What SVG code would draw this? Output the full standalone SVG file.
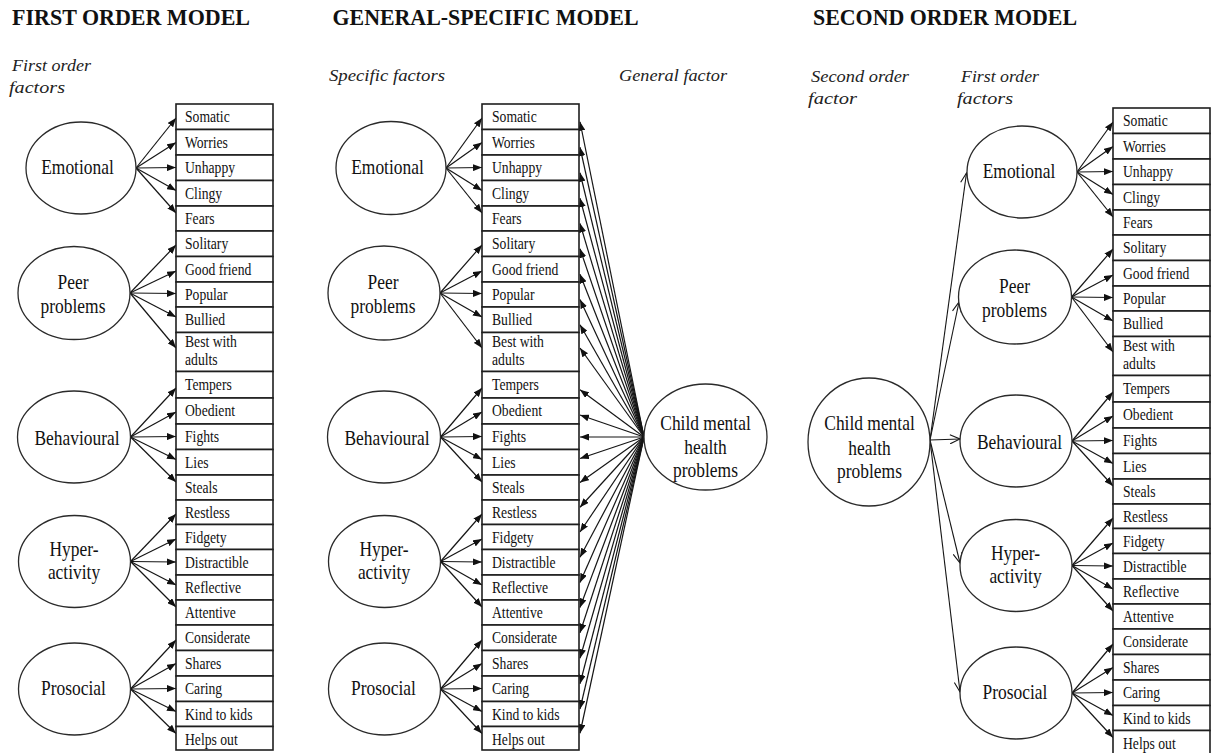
<svg xmlns="http://www.w3.org/2000/svg" width="1214" height="753" viewBox="0 0 1214 753">
<style>
  .bg { fill:#ffffff; }
  .box { fill:#ffffff; stroke:#1e1e1e; stroke-width:1.6; }
  .ell { fill:#ffffff; stroke:#2a2a2a; stroke-width:1.3; }
  text { font-family:"Liberation Serif","Times New Roman",serif; fill:#111111; }
  .lbl { font-size:17.5px; }
  .fac { font-size:21px; text-anchor:middle; }
  .hd { font-size:23px; font-weight:bold; }
  .it { font-size:17.5px; font-style:italic; fill:#222222; }
  .arr { stroke:#151515; stroke-width:1.2; fill:none; marker-end:url(#tri); }
  .arr2 { stroke:#151515; stroke-width:1.1; fill:none; marker-end:url(#vee); }
</style>
<defs>
  <marker id="tri" viewBox="0 0 9 7" refX="9" refY="3.5" markerWidth="9" markerHeight="7" orient="auto" markerUnits="userSpaceOnUse">
    <path d="M0,0 L9,3.5 L0,7 z" fill="#111111"/>
  </marker>
  <marker id="vee" viewBox="0 0 12 10" refX="11" refY="5" markerWidth="12" markerHeight="10" orient="auto" markerUnits="userSpaceOnUse">
    <path d="M1,0.5 L11,5 L1,9.5" fill="none" stroke="#151515" stroke-width="1.1"/>
  </marker>
</defs>
<rect class="bg" x="0" y="0" width="1214" height="753"/>

<!-- headings and column captions -->
<g id="titles">
  <text class="hd" x="12" y="25" textLength="238" lengthAdjust="spacingAndGlyphs">FIRST ORDER MODEL</text>
  <text class="hd" x="332.5" y="25" textLength="306" lengthAdjust="spacingAndGlyphs">GENERAL-SPECIFIC MODEL</text>
  <text class="hd" x="813" y="25" textLength="264" lengthAdjust="spacingAndGlyphs">SECOND ORDER MODEL</text>
  <text class="it" x="12" y="70.5" textLength="79" lengthAdjust="spacingAndGlyphs">First order</text>
  <text class="it" x="9" y="93" textLength="56" lengthAdjust="spacingAndGlyphs">factors</text>
  <text class="it" x="329" y="80.5" textLength="116" lengthAdjust="spacingAndGlyphs">Specific factors</text>
  <text class="it" x="619" y="80.5" textLength="108" lengthAdjust="spacingAndGlyphs">General factor</text>
  <text class="it" x="811" y="81.5" textLength="98" lengthAdjust="spacingAndGlyphs">Second order</text>
  <text class="it" x="808" y="104" textLength="49" lengthAdjust="spacingAndGlyphs">factor</text>
  <text class="it" x="961" y="81.5" textLength="78" lengthAdjust="spacingAndGlyphs">First order</text>
  <text class="it" x="957" y="104" textLength="56" lengthAdjust="spacingAndGlyphs">factors</text>
</g>

<!-- connectors -->
<g id="connectors">
  <!-- first order model -->
  <line class="arr" x1="136" y1="168" x2="176" y2="118"/>
  <line class="arr" x1="136" y1="168" x2="176" y2="142.5"/>
  <line class="arr" x1="136" y1="168" x2="176" y2="167.5"/>
  <line class="arr" x1="136" y1="168" x2="176" y2="190.5"/>
  <line class="arr" x1="136" y1="168" x2="176" y2="213"/>
  <line class="arr" x1="130" y1="293" x2="176" y2="245"/>
  <line class="arr" x1="130" y1="293" x2="176" y2="271"/>
  <line class="arr" x1="130" y1="293" x2="176" y2="293.5"/>
  <line class="arr" x1="130" y1="293" x2="176" y2="317"/>
  <line class="arr" x1="130" y1="293" x2="176" y2="348"/>
  <line class="arr" x1="130.5" y1="437" x2="176" y2="388"/>
  <line class="arr" x1="130.5" y1="437" x2="176" y2="412"/>
  <line class="arr" x1="130.5" y1="437" x2="176" y2="436.5"/>
  <line class="arr" x1="130.5" y1="437" x2="176" y2="459.5"/>
  <line class="arr" x1="130.5" y1="437" x2="176" y2="482"/>
  <line class="arr" x1="130.5" y1="561.5" x2="176" y2="514"/>
  <line class="arr" x1="130.5" y1="561.5" x2="176" y2="539"/>
  <line class="arr" x1="130.5" y1="561.5" x2="176" y2="562"/>
  <line class="arr" x1="130.5" y1="561.5" x2="176" y2="585"/>
  <line class="arr" x1="130.5" y1="561.5" x2="176" y2="607"/>
  <line class="arr" x1="130.5" y1="689" x2="176" y2="640"/>
  <line class="arr" x1="130.5" y1="689" x2="176" y2="663.5"/>
  <line class="arr" x1="130.5" y1="689" x2="176" y2="688.5"/>
  <line class="arr" x1="130.5" y1="689" x2="176" y2="711.5"/>
  <line class="arr" x1="130.5" y1="689" x2="176" y2="733.5"/>

  <!-- general-specific model: specific factors -->
  <line class="arr" x1="446" y1="168" x2="482" y2="118"/>
  <line class="arr" x1="446" y1="168" x2="482" y2="142.5"/>
  <line class="arr" x1="446" y1="168" x2="482" y2="167.5"/>
  <line class="arr" x1="446" y1="168" x2="482" y2="190.5"/>
  <line class="arr" x1="446" y1="168" x2="482" y2="213"/>
  <line class="arr" x1="440" y1="293" x2="482" y2="245"/>
  <line class="arr" x1="440" y1="293" x2="482" y2="271"/>
  <line class="arr" x1="440" y1="293" x2="482" y2="293.5"/>
  <line class="arr" x1="440" y1="293" x2="482" y2="317"/>
  <line class="arr" x1="440" y1="293" x2="482" y2="348"/>
  <line class="arr" x1="440.5" y1="437" x2="482" y2="388"/>
  <line class="arr" x1="440.5" y1="437" x2="482" y2="412"/>
  <line class="arr" x1="440.5" y1="437" x2="482" y2="436.5"/>
  <line class="arr" x1="440.5" y1="437" x2="482" y2="459.5"/>
  <line class="arr" x1="440.5" y1="437" x2="482" y2="482"/>
  <line class="arr" x1="440.5" y1="561.5" x2="482" y2="514"/>
  <line class="arr" x1="440.5" y1="561.5" x2="482" y2="539"/>
  <line class="arr" x1="440.5" y1="561.5" x2="482" y2="562"/>
  <line class="arr" x1="440.5" y1="561.5" x2="482" y2="585"/>
  <line class="arr" x1="440.5" y1="561.5" x2="482" y2="607"/>
  <line class="arr" x1="440.5" y1="689" x2="482" y2="640"/>
  <line class="arr" x1="440.5" y1="689" x2="482" y2="663.5"/>
  <line class="arr" x1="440.5" y1="689" x2="482" y2="688.5"/>
  <line class="arr" x1="440.5" y1="689" x2="482" y2="711.5"/>
  <line class="arr" x1="440.5" y1="689" x2="482" y2="733.5"/>

  <!-- general-specific model: general factor to every item -->
  <line class="arr" x1="644" y1="437" x2="580" y2="121.75"/>
  <line class="arr" x1="644" y1="437" x2="580" y2="147.25"/>
  <line class="arr" x1="644" y1="437" x2="580" y2="172.75"/>
  <line class="arr" x1="644" y1="437" x2="580" y2="198.25"/>
  <line class="arr" x1="644" y1="437" x2="580" y2="223.5"/>
  <line class="arr" x1="644" y1="437" x2="580" y2="248.75"/>
  <line class="arr" x1="644" y1="437" x2="580" y2="274.25"/>
  <line class="arr" x1="644" y1="437" x2="580" y2="299.5"/>
  <line class="arr" x1="644" y1="437" x2="580" y2="324.75"/>
  <line class="arr" x1="644" y1="437" x2="580" y2="348"/>
  <line class="arr" x1="644" y1="437" x2="580" y2="389.75"/>
  <line class="arr" x1="644" y1="437" x2="580" y2="415"/>
  <line class="arr" x1="644" y1="437" x2="580" y2="437"/>
  <line class="arr" x1="644" y1="437" x2="580" y2="458.5"/>
  <line class="arr" x1="644" y1="437" x2="580" y2="482.5"/>
  <line class="arr" x1="644" y1="437" x2="580" y2="507.25"/>
  <line class="arr" x1="644" y1="437" x2="580" y2="532"/>
  <line class="arr" x1="644" y1="437" x2="580" y2="557.25"/>
  <line class="arr" x1="644" y1="437" x2="580" y2="582.5"/>
  <line class="arr" x1="644" y1="437" x2="580" y2="607.5"/>
  <line class="arr" x1="644" y1="437" x2="580" y2="632.75"/>
  <line class="arr" x1="644" y1="437" x2="580" y2="658.25"/>
  <line class="arr" x1="644" y1="437" x2="580" y2="683.75"/>
  <line class="arr" x1="644" y1="437" x2="580" y2="709"/>
  <line class="arr" x1="644" y1="437" x2="580" y2="733.25"/>

  <!-- second order model: second order factor to first order factors -->
  <line class="arr2" x1="930" y1="440" x2="966.5" y2="173"/>
  <line class="arr2" x1="930" y1="440" x2="959" y2="302"/>
  <line class="arr2" x1="930" y1="440" x2="960" y2="439"/>
  <line class="arr2" x1="930" y1="440" x2="960" y2="563"/>
  <line class="arr2" x1="930" y1="440" x2="960" y2="692"/>

  <!-- second order model: first order factors to items -->
  <line class="arr" x1="1077" y1="172" x2="1113" y2="122"/>
  <line class="arr" x1="1077" y1="172" x2="1113" y2="146.5"/>
  <line class="arr" x1="1077" y1="172" x2="1113" y2="171.5"/>
  <line class="arr" x1="1077" y1="172" x2="1113" y2="194.5"/>
  <line class="arr" x1="1077" y1="172" x2="1113" y2="217"/>
  <line class="arr" x1="1071.5" y1="297" x2="1113" y2="249"/>
  <line class="arr" x1="1071.5" y1="297" x2="1113" y2="275"/>
  <line class="arr" x1="1071.5" y1="297" x2="1113" y2="297.5"/>
  <line class="arr" x1="1071.5" y1="297" x2="1113" y2="321"/>
  <line class="arr" x1="1071.5" y1="297" x2="1113" y2="352"/>
  <line class="arr" x1="1072" y1="441" x2="1113" y2="392"/>
  <line class="arr" x1="1072" y1="441" x2="1113" y2="416"/>
  <line class="arr" x1="1072" y1="441" x2="1113" y2="440.5"/>
  <line class="arr" x1="1072" y1="441" x2="1113" y2="463.5"/>
  <line class="arr" x1="1072" y1="441" x2="1113" y2="486"/>
  <line class="arr" x1="1072" y1="565.5" x2="1113" y2="518"/>
  <line class="arr" x1="1072" y1="565.5" x2="1113" y2="543"/>
  <line class="arr" x1="1072" y1="565.5" x2="1113" y2="566"/>
  <line class="arr" x1="1072" y1="565.5" x2="1113" y2="589"/>
  <line class="arr" x1="1072" y1="565.5" x2="1113" y2="611"/>
  <line class="arr" x1="1072" y1="693" x2="1113" y2="644"/>
  <line class="arr" x1="1072" y1="693" x2="1113" y2="667.5"/>
  <line class="arr" x1="1072" y1="693" x2="1113" y2="692.5"/>
  <line class="arr" x1="1072" y1="693" x2="1113" y2="715.5"/>
  <line class="arr" x1="1072" y1="693" x2="1113" y2="737.5"/>
</g>

<!-- first order model: latent factors -->
<g id="p1-emotional"><ellipse class="ell" cx="81" cy="168" rx="55" ry="46"/><text class="fac" transform="translate(77.5,173.5) scale(0.83,1)">Emotional</text></g>
<g id="p1-peer"><ellipse class="ell" cx="74" cy="293" rx="56" ry="46.5"/><text class="fac" transform="translate(73,288.5) scale(0.83,1)">Peer</text><text class="fac" transform="translate(73,312.5) scale(0.83,1)">problems</text></g>
<g id="p1-behavioural"><ellipse class="ell" cx="74" cy="437" rx="56.5" ry="46"/><text class="fac" transform="translate(77,445) scale(0.83,1)">Behavioural</text></g>
<g id="p1-hyper"><ellipse class="ell" cx="74.5" cy="561.5" rx="56" ry="46"/><text class="fac" transform="translate(74,556) scale(0.83,1)">Hyper-</text><text class="fac" transform="translate(74,578.5) scale(0.83,1)">activity</text></g>
<g id="p1-prosocial"><ellipse class="ell" cx="74.5" cy="689" rx="56" ry="46"/><text class="fac" transform="translate(73.5,695) scale(0.83,1)">Prosocial</text></g>

<!-- first order model: items -->
<g id="p1-somatic"><rect class="box" x="176" y="104" width="97" height="25.5"/><text class="lbl" transform="translate(185,122) scale(0.78,1)">Somatic</text></g>
<g id="p1-worries"><rect class="box" x="176" y="129.5" width="97" height="25.5"/><text class="lbl" transform="translate(185,147.5) scale(0.78,1)">Worries</text></g>
<g id="p1-unhappy"><rect class="box" x="176" y="155" width="97" height="25.5"/><text class="lbl" transform="translate(185,173) scale(0.78,1)">Unhappy</text></g>
<g id="p1-clingy"><rect class="box" x="176" y="180.5" width="97" height="25.5"/><text class="lbl" transform="translate(185,198.5) scale(0.78,1)">Clingy</text></g>
<g id="p1-fears"><rect class="box" x="176" y="206" width="97" height="25"/><text class="lbl" transform="translate(185,224) scale(0.78,1)">Fears</text></g>
<g id="p1-solitary"><rect class="box" x="176" y="231" width="97" height="25.5"/><text class="lbl" transform="translate(185,249) scale(0.78,1)">Solitary</text></g>
<g id="p1-goodfriend"><rect class="box" x="176" y="256.5" width="97" height="25.5"/><text class="lbl" transform="translate(185,274.5) scale(0.78,1)">Good friend</text></g>
<g id="p1-popular"><rect class="box" x="176" y="282" width="97" height="25"/><text class="lbl" transform="translate(185,300) scale(0.78,1)">Popular</text></g>
<g id="p1-bullied"><rect class="box" x="176" y="307" width="97" height="25.5"/><text class="lbl" transform="translate(185,325) scale(0.78,1)">Bullied</text></g>
<g id="p1-bestwithadults"><rect class="box" x="176" y="332.5" width="97" height="39"/><text class="lbl" transform="translate(185,346.5) scale(0.78,1)">Best with</text><text class="lbl" transform="translate(185,364.5) scale(0.78,1)">adults</text></g>
<g id="p1-tempers"><rect class="box" x="176" y="371.5" width="97" height="26.5"/><text class="lbl" transform="translate(185,389.5) scale(0.78,1)">Tempers</text></g>
<g id="p1-obedient"><rect class="box" x="176" y="398" width="97" height="26"/><text class="lbl" transform="translate(185,416) scale(0.78,1)">Obedient</text></g>
<g id="p1-fights"><rect class="box" x="176" y="424" width="97" height="25.5"/><text class="lbl" transform="translate(185,442) scale(0.78,1)">Fights</text></g>
<g id="p1-lies"><rect class="box" x="176" y="449.5" width="97" height="25.5"/><text class="lbl" transform="translate(185,467.5) scale(0.78,1)">Lies</text></g>
<g id="p1-steals"><rect class="box" x="176" y="475" width="97" height="25"/><text class="lbl" transform="translate(185,493) scale(0.78,1)">Steals</text></g>
<g id="p1-restless"><rect class="box" x="176" y="500" width="97" height="24.5"/><text class="lbl" transform="translate(185,518) scale(0.78,1)">Restless</text></g>
<g id="p1-fidgety"><rect class="box" x="176" y="524.5" width="97" height="25"/><text class="lbl" transform="translate(185,542.5) scale(0.78,1)">Fidgety</text></g>
<g id="p1-distractible"><rect class="box" x="176" y="549.5" width="97" height="25.5"/><text class="lbl" transform="translate(185,567.5) scale(0.78,1)">Distractible</text></g>
<g id="p1-reflective"><rect class="box" x="176" y="575" width="97" height="25"/><text class="lbl" transform="translate(185,593) scale(0.78,1)">Reflective</text></g>
<g id="p1-attentive"><rect class="box" x="176" y="600" width="97" height="25"/><text class="lbl" transform="translate(185,618) scale(0.78,1)">Attentive</text></g>
<g id="p1-considerate"><rect class="box" x="176" y="625" width="97" height="25.5"/><text class="lbl" transform="translate(185,643) scale(0.78,1)">Considerate</text></g>
<g id="p1-shares"><rect class="box" x="176" y="650.5" width="97" height="25.5"/><text class="lbl" transform="translate(185,668.5) scale(0.78,1)">Shares</text></g>
<g id="p1-caring"><rect class="box" x="176" y="676" width="97" height="25.5"/><text class="lbl" transform="translate(185,694) scale(0.78,1)">Caring</text></g>
<g id="p1-kindtokids"><rect class="box" x="176" y="701.5" width="97" height="25"/><text class="lbl" transform="translate(185,719.5) scale(0.78,1)">Kind to kids</text></g>
<g id="p1-helpsout"><rect class="box" x="176" y="726.5" width="97" height="23.5"/><text class="lbl" transform="translate(185,744.5) scale(0.78,1)">Helps out</text></g>

<!-- general-specific model: specific factors -->
<g id="p2-emotional"><ellipse class="ell" cx="391" cy="168" rx="55" ry="46.5"/><text class="fac" transform="translate(387.5,173.5) scale(0.83,1)">Emotional</text></g>
<g id="p2-peer"><ellipse class="ell" cx="384" cy="293" rx="56" ry="47"/><text class="fac" transform="translate(383,288.5) scale(0.83,1)">Peer</text><text class="fac" transform="translate(383,312.5) scale(0.83,1)">problems</text></g>
<g id="p2-behavioural"><ellipse class="ell" cx="384" cy="437" rx="56.5" ry="46"/><text class="fac" transform="translate(387,445) scale(0.83,1)">Behavioural</text></g>
<g id="p2-hyper"><ellipse class="ell" cx="384.5" cy="561.5" rx="56" ry="46"/><text class="fac" transform="translate(384,556) scale(0.83,1)">Hyper-</text><text class="fac" transform="translate(384,578.5) scale(0.83,1)">activity</text></g>
<g id="p2-prosocial"><ellipse class="ell" cx="384.5" cy="689" rx="56" ry="46"/><text class="fac" transform="translate(383.5,695) scale(0.83,1)">Prosocial</text></g>

<!-- general-specific model: general factor -->
<g id="p2-general"><ellipse class="ell" cx="705.5" cy="437" rx="61.5" ry="53"/><text class="fac" transform="translate(705.5,430) scale(0.83,1)">Child mental</text><text class="fac" transform="translate(705.5,454) scale(0.83,1)">health</text><text class="fac" transform="translate(705.5,477) scale(0.83,1)">problems</text></g>

<!-- general-specific model: items -->
<g id="p2-somatic"><rect class="box" x="482" y="104" width="97" height="25.5"/><text class="lbl" transform="translate(492,122) scale(0.78,1)">Somatic</text></g>
<g id="p2-worries"><rect class="box" x="482" y="129.5" width="97" height="25.5"/><text class="lbl" transform="translate(492,147.5) scale(0.78,1)">Worries</text></g>
<g id="p2-unhappy"><rect class="box" x="482" y="155" width="97" height="25.5"/><text class="lbl" transform="translate(492,173) scale(0.78,1)">Unhappy</text></g>
<g id="p2-clingy"><rect class="box" x="482" y="180.5" width="97" height="25.5"/><text class="lbl" transform="translate(492,198.5) scale(0.78,1)">Clingy</text></g>
<g id="p2-fears"><rect class="box" x="482" y="206" width="97" height="25"/><text class="lbl" transform="translate(492,224) scale(0.78,1)">Fears</text></g>
<g id="p2-solitary"><rect class="box" x="482" y="231" width="97" height="25.5"/><text class="lbl" transform="translate(492,249) scale(0.78,1)">Solitary</text></g>
<g id="p2-goodfriend"><rect class="box" x="482" y="256.5" width="97" height="25.5"/><text class="lbl" transform="translate(492,274.5) scale(0.78,1)">Good friend</text></g>
<g id="p2-popular"><rect class="box" x="482" y="282" width="97" height="25"/><text class="lbl" transform="translate(492,300) scale(0.78,1)">Popular</text></g>
<g id="p2-bullied"><rect class="box" x="482" y="307" width="97" height="25.5"/><text class="lbl" transform="translate(492,325) scale(0.78,1)">Bullied</text></g>
<g id="p2-bestwithadults"><rect class="box" x="482" y="332.5" width="97" height="39"/><text class="lbl" transform="translate(492,346.5) scale(0.78,1)">Best with</text><text class="lbl" transform="translate(492,364.5) scale(0.78,1)">adults</text></g>
<g id="p2-tempers"><rect class="box" x="482" y="371.5" width="97" height="26.5"/><text class="lbl" transform="translate(492,389.5) scale(0.78,1)">Tempers</text></g>
<g id="p2-obedient"><rect class="box" x="482" y="398" width="97" height="26"/><text class="lbl" transform="translate(492,416) scale(0.78,1)">Obedient</text></g>
<g id="p2-fights"><rect class="box" x="482" y="424" width="97" height="25.5"/><text class="lbl" transform="translate(492,442) scale(0.78,1)">Fights</text></g>
<g id="p2-lies"><rect class="box" x="482" y="449.5" width="97" height="25.5"/><text class="lbl" transform="translate(492,467.5) scale(0.78,1)">Lies</text></g>
<g id="p2-steals"><rect class="box" x="482" y="475" width="97" height="25"/><text class="lbl" transform="translate(492,493) scale(0.78,1)">Steals</text></g>
<g id="p2-restless"><rect class="box" x="482" y="500" width="97" height="24.5"/><text class="lbl" transform="translate(492,518) scale(0.78,1)">Restless</text></g>
<g id="p2-fidgety"><rect class="box" x="482" y="524.5" width="97" height="25"/><text class="lbl" transform="translate(492,542.5) scale(0.78,1)">Fidgety</text></g>
<g id="p2-distractible"><rect class="box" x="482" y="549.5" width="97" height="25.5"/><text class="lbl" transform="translate(492,567.5) scale(0.78,1)">Distractible</text></g>
<g id="p2-reflective"><rect class="box" x="482" y="575" width="97" height="25"/><text class="lbl" transform="translate(492,593) scale(0.78,1)">Reflective</text></g>
<g id="p2-attentive"><rect class="box" x="482" y="600" width="97" height="25"/><text class="lbl" transform="translate(492,618) scale(0.78,1)">Attentive</text></g>
<g id="p2-considerate"><rect class="box" x="482" y="625" width="97" height="25.5"/><text class="lbl" transform="translate(492,643) scale(0.78,1)">Considerate</text></g>
<g id="p2-shares"><rect class="box" x="482" y="650.5" width="97" height="25.5"/><text class="lbl" transform="translate(492,668.5) scale(0.78,1)">Shares</text></g>
<g id="p2-caring"><rect class="box" x="482" y="676" width="97" height="25.5"/><text class="lbl" transform="translate(492,694) scale(0.78,1)">Caring</text></g>
<g id="p2-kindtokids"><rect class="box" x="482" y="701.5" width="97" height="25"/><text class="lbl" transform="translate(492,719.5) scale(0.78,1)">Kind to kids</text></g>
<g id="p2-helpsout"><rect class="box" x="482" y="726.5" width="97" height="23.5"/><text class="lbl" transform="translate(492,744.5) scale(0.78,1)">Helps out</text></g>

<!-- second order model: second order factor -->
<g id="p3-general"><ellipse class="ell" cx="869" cy="442" rx="61" ry="64"/><text class="fac" transform="translate(869.5,430) scale(0.83,1)">Child mental</text><text class="fac" transform="translate(869.5,455) scale(0.83,1)">health</text><text class="fac" transform="translate(869.5,478) scale(0.83,1)">problems</text></g>

<!-- second order model: first order factors -->
<g id="p3-emotional"><ellipse class="ell" cx="1022" cy="172" rx="55" ry="46"/><text class="fac" transform="translate(1019,177.5) scale(0.83,1)">Emotional</text></g>
<g id="p3-peer"><ellipse class="ell" cx="1015" cy="297" rx="56.5" ry="47"/><text class="fac" transform="translate(1014.5,292.5) scale(0.83,1)">Peer</text><text class="fac" transform="translate(1014.5,316.5) scale(0.83,1)">problems</text></g>
<g id="p3-behavioural"><ellipse class="ell" cx="1016" cy="441" rx="56" ry="46"/><text class="fac" transform="translate(1019.5,449) scale(0.83,1)">Behavioural</text></g>
<g id="p3-hyper"><ellipse class="ell" cx="1016" cy="565.5" rx="56" ry="46"/><text class="fac" transform="translate(1015.5,560) scale(0.83,1)">Hyper-</text><text class="fac" transform="translate(1015.5,582.5) scale(0.83,1)">activity</text></g>
<g id="p3-prosocial"><ellipse class="ell" cx="1016" cy="693" rx="56" ry="46"/><text class="fac" transform="translate(1015,699) scale(0.83,1)">Prosocial</text></g>

<!-- second order model: items -->
<g id="p3-somatic"><rect class="box" x="1113" y="108" width="97" height="25.5"/><text class="lbl" transform="translate(1123,126) scale(0.78,1)">Somatic</text></g>
<g id="p3-worries"><rect class="box" x="1113" y="133.5" width="97" height="25.5"/><text class="lbl" transform="translate(1123,151.5) scale(0.78,1)">Worries</text></g>
<g id="p3-unhappy"><rect class="box" x="1113" y="159" width="97" height="25.5"/><text class="lbl" transform="translate(1123,177) scale(0.78,1)">Unhappy</text></g>
<g id="p3-clingy"><rect class="box" x="1113" y="184.5" width="97" height="25.5"/><text class="lbl" transform="translate(1123,202.5) scale(0.78,1)">Clingy</text></g>
<g id="p3-fears"><rect class="box" x="1113" y="210" width="97" height="25"/><text class="lbl" transform="translate(1123,228) scale(0.78,1)">Fears</text></g>
<g id="p3-solitary"><rect class="box" x="1113" y="235" width="97" height="25.5"/><text class="lbl" transform="translate(1123,253) scale(0.78,1)">Solitary</text></g>
<g id="p3-goodfriend"><rect class="box" x="1113" y="260.5" width="97" height="25.5"/><text class="lbl" transform="translate(1123,278.5) scale(0.78,1)">Good friend</text></g>
<g id="p3-popular"><rect class="box" x="1113" y="286" width="97" height="25"/><text class="lbl" transform="translate(1123,304) scale(0.78,1)">Popular</text></g>
<g id="p3-bullied"><rect class="box" x="1113" y="311" width="97" height="25.5"/><text class="lbl" transform="translate(1123,329) scale(0.78,1)">Bullied</text></g>
<g id="p3-bestwithadults"><rect class="box" x="1113" y="336.5" width="97" height="39"/><text class="lbl" transform="translate(1123,350.5) scale(0.78,1)">Best with</text><text class="lbl" transform="translate(1123,368.5) scale(0.78,1)">adults</text></g>
<g id="p3-tempers"><rect class="box" x="1113" y="375.5" width="97" height="26.5"/><text class="lbl" transform="translate(1123,393.5) scale(0.78,1)">Tempers</text></g>
<g id="p3-obedient"><rect class="box" x="1113" y="402" width="97" height="26"/><text class="lbl" transform="translate(1123,420) scale(0.78,1)">Obedient</text></g>
<g id="p3-fights"><rect class="box" x="1113" y="428" width="97" height="25.5"/><text class="lbl" transform="translate(1123,446) scale(0.78,1)">Fights</text></g>
<g id="p3-lies"><rect class="box" x="1113" y="453.5" width="97" height="25.5"/><text class="lbl" transform="translate(1123,471.5) scale(0.78,1)">Lies</text></g>
<g id="p3-steals"><rect class="box" x="1113" y="479" width="97" height="25"/><text class="lbl" transform="translate(1123,497) scale(0.78,1)">Steals</text></g>
<g id="p3-restless"><rect class="box" x="1113" y="504" width="97" height="24.5"/><text class="lbl" transform="translate(1123,522) scale(0.78,1)">Restless</text></g>
<g id="p3-fidgety"><rect class="box" x="1113" y="528.5" width="97" height="25"/><text class="lbl" transform="translate(1123,546.5) scale(0.78,1)">Fidgety</text></g>
<g id="p3-distractible"><rect class="box" x="1113" y="553.5" width="97" height="25.5"/><text class="lbl" transform="translate(1123,571.5) scale(0.78,1)">Distractible</text></g>
<g id="p3-reflective"><rect class="box" x="1113" y="579" width="97" height="25"/><text class="lbl" transform="translate(1123,597) scale(0.78,1)">Reflective</text></g>
<g id="p3-attentive"><rect class="box" x="1113" y="604" width="97" height="25"/><text class="lbl" transform="translate(1123,622) scale(0.78,1)">Attentive</text></g>
<g id="p3-considerate"><rect class="box" x="1113" y="629" width="97" height="25.5"/><text class="lbl" transform="translate(1123,647) scale(0.78,1)">Considerate</text></g>
<g id="p3-shares"><rect class="box" x="1113" y="654.5" width="97" height="25.5"/><text class="lbl" transform="translate(1123,672.5) scale(0.78,1)">Shares</text></g>
<g id="p3-caring"><rect class="box" x="1113" y="680" width="97" height="25.5"/><text class="lbl" transform="translate(1123,698) scale(0.78,1)">Caring</text></g>
<g id="p3-kindtokids"><rect class="box" x="1113" y="705.5" width="97" height="25"/><text class="lbl" transform="translate(1123,723.5) scale(0.78,1)">Kind to kids</text></g>
<g id="p3-helpsout"><rect class="box" x="1113" y="730.5" width="97" height="23.5"/><text class="lbl" transform="translate(1123,748.5) scale(0.78,1)">Helps out</text></g>
</svg>
